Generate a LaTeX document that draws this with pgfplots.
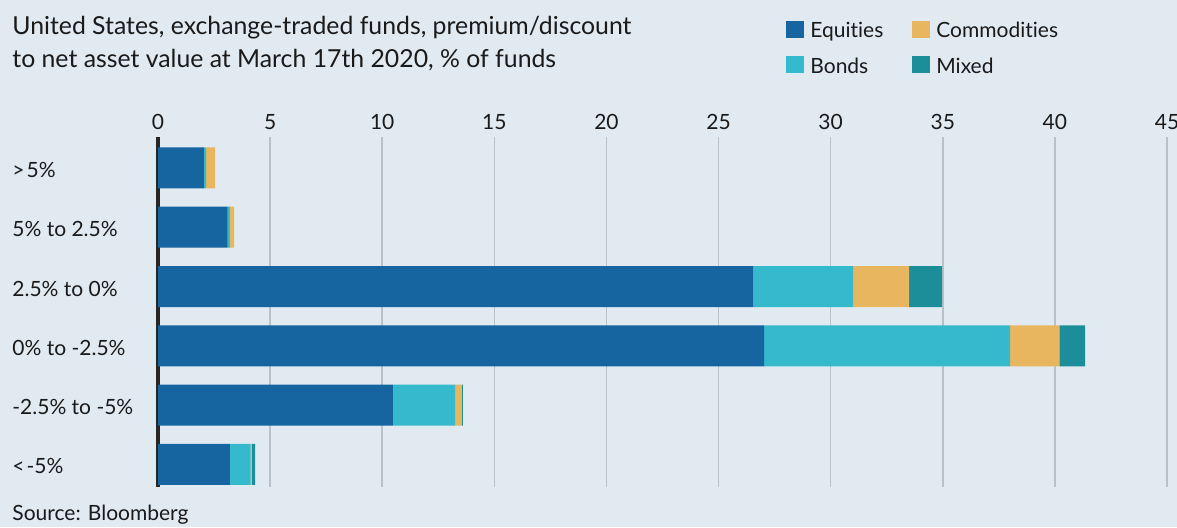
\documentclass[border=0pt]{standalone}
\usepackage{pgfplots}
\pgfplotsset{compat=1.18}
\usepackage{fontspec}
\setmainfont{Lato}[Ligatures={NoCommon}]
\definecolor{bg}{RGB}{225,234,241}
\definecolor{equities}{RGB}{22,101,160}
\definecolor{bonds}{RGB}{52,185,205}
\definecolor{commod}{RGB}{232,182,94}
\definecolor{mixed}{RGB}{27,142,153}
\definecolor{gridc}{RGB}{185,193,201}
\definecolor{txt}{RGB}{26,26,26}
\begin{document}
\begin{tikzpicture}
\fill[bg] (0pt,0pt) rectangle (588.5pt,263.5pt);
\node[anchor=base west,inner sep=0pt,font=\fontsize{12.4}{14}\selectfont,text=txt] at (6pt,246.5pt) {United States, exchange-traded funds, premium/discount};
\node[anchor=base west,inner sep=0pt,font=\fontsize{12.4}{14}\selectfont,text=txt] at (6pt,230pt) {to net asset value at March 17th 2020, \% of funds};
\node[anchor=base west,inner sep=0pt,font=\fontsize{10.5}{12}\selectfont,text=txt] at (6pt,3.5pt) {Source: Bloomberg};
\begin{axis}[
  at={(79pt,20pt)}, anchor=south west,
  scale only axis, width=504.5pt, height=175pt,
  xbar stacked, bar width=20.5pt,
  xmin=0, xmax=45, ymin=-0.52, ymax=5.38, y dir=reverse,
  xtick={0,5,...,45}, xticklabel pos=upper,
  ytick={0,1,2,3,4,5},
  yticklabels={{>\kern1pt5\%},{5\% to 2.5\%},{2.5\% to 0\%},{0\% to -2.5\%},{-2.5\% to -5\%},{<\kern1pt-5\%}},
  axis line style={draw=none},
  major tick length=0pt,
  xmajorgrids, grid style={gridc, line width=0.75pt},
  extra x ticks={0}, extra x tick labels={},
  extra x tick style={grid style={black!85, line width=1.6pt}},
  ticklabel style={font=\fontsize{10.5}{12}\selectfont, text=txt},
  /pgf/number format/assume math mode=true,
  xticklabel style={anchor=base, inner sep=0pt, yshift=4pt},
  yticklabel style={anchor=base west, inner sep=0pt, xshift=-73pt, yshift=-4.75pt},
  legend columns=2, transpose legend,
  legend image code/.code={\fill[#1] (0pt,-3pt) rectangle (9pt,5.5pt);},
  legend style={at={(rel axis cs:0.6224,1.34)}, anchor=north west,
    draw=none, fill=none, inner sep=0pt,
    font=\fontsize{10.5}{12}\selectfont, text=txt,
    row sep=4.5pt,
    /tikz/every odd column/.style={column sep=1pt},
    /tikz/every even column/.style={column sep=12.5pt}},
  legend cell align=left,
]
\addplot[fill=equities, draw=none] coordinates {(2.05,0) (3.1,1) (26.55,2) (27.03,3) (10.48,4) (3.2,5)};
\addlegendentry{Equities}
\addplot[fill=bonds, draw=none] coordinates {(0.1,0) (0.1,1) (4.45,2) (10.97,3) (2.77,4) (0.93,5)};
\addlegendentry{Bonds}
\addplot[fill=commod, draw=none] coordinates {(0.4,0) (0.2,1) (2.5,2) (2.2,3) (0.3,4) (0.05,5)};
\addlegendentry{Commodities}
\addplot[fill=mixed, draw=none] coordinates {(0,0) (0,1) (1.47,2) (1.15,3) (0.05,4) (0.15,5)};
\addlegendentry{Mixed}
\end{axis}
\pgfresetboundingbox
\path[use as bounding box] (0pt,0pt) rectangle (588.5pt,263.5pt);
\end{tikzpicture}
\end{document}
